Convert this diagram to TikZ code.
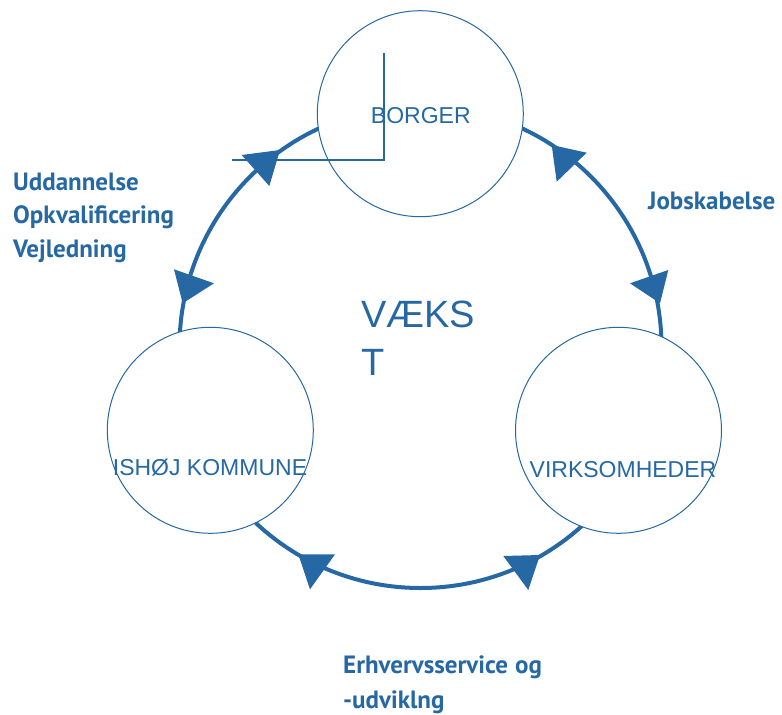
\documentclass[tikz,border=0pt]{standalone}
\usepackage{fontspec}
\setmainfont{Liberation Sans}
\newfontfamily\labelfont{PT Sans}
\definecolor{cblue}{RGB}{38,104,164}
\begin{document}
\begin{tikzpicture}[x=1pt,y=-1pt,
  ring/.style={draw=cblue,line width=4pt},
  bubble/.style={circle,draw=cblue,line width=1pt,fill=white,minimum size=206pt,inner sep=0pt},
  head/.style={fill=cblue},
  elbow/.style={draw=cblue,line width=2.7pt},
  ctext/.style={text=cblue,font=\fontsize{23}{27}\selectfont,anchor=base,inner sep=0pt},
  bigtext/.style={text=cblue,font=\fontsize{38}{47.7}\selectfont,anchor=base west,inner sep=0pt},
  side/.style={text=cblue,font=\labelfont\bfseries\fontsize{25}{29}\selectfont,anchor=base west,inner sep=0pt}
]
\useasboundingbox (0,0) rectangle (782,715);
\draw[ring] (420.5,347) circle[radius=241pt];
\fill[head] (280,150) -- (241.7,155) -- (269.3,186) -- cycle;
\fill[head] (174,269.3) -- (214,283.3) -- (182.7,303.3) -- cycle;
\fill[head] (551.7,145) -- (586.7,152.7) -- (556.7,181.7) -- cycle;
\fill[head] (630,283.3) -- (668.3,270) -- (660,303.3) -- cycle;
\fill[head] (298.3,554.3) -- (335,554.3) -- (310,589.3) -- cycle;
\fill[head] (503.3,556) -- (540,555) -- (528.3,590) -- cycle;
\node[bubble] (borger) at (420.3,113.7) {};
\node[bubble] (ishoj) at (210.3,430.3) {};
\node[bubble] (virk) at (618.5,430.3) {};
\draw[elbow] (384,53) -- (384,160) -- (231.7,160);
\node[ctext] (tborger) at (420.8,123.3) {BORGER};
\node[ctext] (tishoj) at (210,475.7) {ISHØJ KOMMUNE};
\node[ctext] (tvirk) at (623,477.3) {VIRKSOMHEDER};
\node[bigtext] (v1) at (361,327.3) {VÆKS};
\node[bigtext] (v2) at (361,375) {T};
\node[side] (l1) at (13,190) {Uddannelse};
\node[side] (l2) at (13,223.5) {Opkvalificering};
\node[side] (l3) at (13,257) {Vejledning};
\node[side] (l4) at (648,209) {Jobskabelse};
\node[side] (l5) at (343,673.3) {Erhvervsservice\hspace{7pt}og};
\node[side] (l6) at (343,708.3) {-udviklng};
\end{tikzpicture}
\end{document}
